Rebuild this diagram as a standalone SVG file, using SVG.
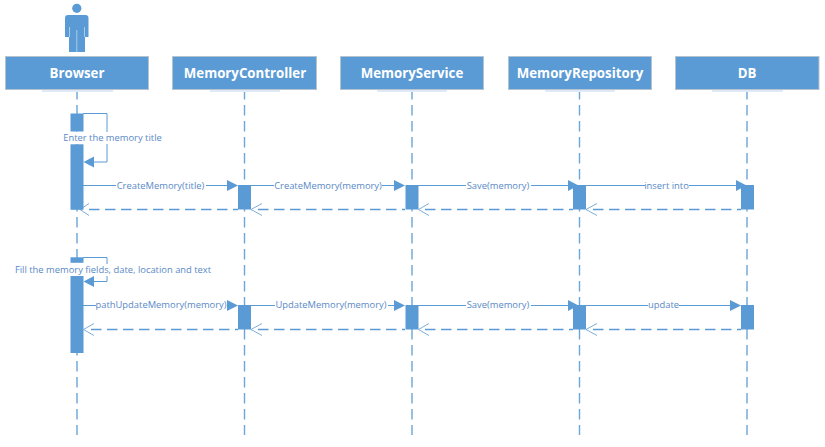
<svg xmlns="http://www.w3.org/2000/svg" width="825" height="447" viewBox="0 0 825 447">
<style>
.box{fill:#5b9bd5;stroke:#b5c3d0;stroke-width:1}
.shade{fill:#dfeaf6}
.title{font:bold 13.25px "Open Sans",sans-serif;fill:#fff;text-anchor:middle}
.life{fill:none;stroke:#6ba5da;stroke-width:1.4;stroke-dasharray:10.500 5.500}
.act{fill:#5b9bd5}
.msg{fill:none;stroke:#5b9bd5;stroke-width:1}
.ret{fill:none;stroke:#5b9bd5;stroke-width:1.4;stroke-dasharray:10.500 5.500}
.open{fill:none;stroke:#5b9bd5;stroke-width:.8}
.head{fill:#5b9bd5}
.lbl{font:9.4px "Open Sans",sans-serif;fill:#5a8ac6;text-anchor:middle}
.bg{fill:#fff}
</style>
<rect width="825" height="447" fill="#fff"/>
<g id="connectors">
<path class="life" d="M77 89V435M244.500 89V435M412 89V435M579.500 89V435M747 89V435"/>
<path class="msg" d="M83 113.500H107V162H90"/>
<path class="msg" d="M83 185.500H228M250 185.500H396M418 185.500H569M586 185.500H737"/>
<path class="head" d="M83.500 162L94 156.500V167.500ZM238 185.500L227 180V191ZM405 185.500L394 180V191ZM578.500 185.500L568 180V191ZM746.500 185.500L736 180V191Z"/>
<path class="ret" d="M89 209.500H238M258 209.500H405M425 209.500H573M593 209.500H741"/>
<path class="open" d="M89 203.500L80 209.500L89 215.500M262 203.500L251 209.500L262 215.500M429 203.500L418.500 209.500L429 215.500M597 203.500L586 209.500L597 215.500"/>
<path class="msg" d="M83 257.500H107V281.500H90"/>
<path class="msg" d="M83 305.500H228M250 305.500H396M418 305.500H569M586 305.500H731"/>
<path class="head" d="M83.500 281.500L94 276V287ZM238 305.500L227 300V311ZM405 305.500L394 300V311ZM578.500 305.500L568 300V311ZM741 305.500L730 300V311Z"/>
<path class="ret" d="M91 329.500H238M258 329.500H405M425 329.500H573M593 329.500H741"/>
<path class="open" d="M94 323.500L83.500 329.500L94 335.500M262 323.500L251 329.500L262 335.500M429 323.500L418.500 329.500L429 335.500M597 323.500L586 329.500L597 335.500"/>
</g>
<g id="browser">
<g id="actor">
<circle cx="76.800" cy="8.300" r="4.600" fill="#5b9bd5"/>
<path fill="#5b9bd5" d="M68 15H85.500Q88.500 15 88.500 18V37H85V52H69V37H65V18Q65 15 68 15Z"/>
<path fill="none" stroke="#a9cbea" stroke-width="1" d="M76.800 30V52M69.500 27V37M84.500 27V37"/>
</g>
<rect class="shade" x="42" y="90" width="71" height="2"/>
<rect class="box" x="5.500" y="56.500" width="143" height="33"/>
<text class="title" x="77" y="77.500">Browser</text>
<rect class="act" x="70.500" y="113.500" width="13" height="18"/>
<rect class="act" x="70.500" y="144.300" width="13" height="65.500"/>
<rect class="act" x="70.500" y="257.300" width="13" height="5.500"/>
<rect class="act" x="70.500" y="276" width="13" height="77"/>
</g>
<g id="memory-controller">
<rect class="shade" x="210" y="90" width="70" height="2"/>
<rect class="box" x="172.500" y="56.500" width="144" height="33"/>
<text class="title" x="245" y="77.500">MemoryController</text>
<rect class="act" x="238" y="185" width="13" height="24.500"/>
<rect class="act" x="238" y="305" width="13" height="24.500"/>
</g>
<g id="memory-service">
<rect class="shade" x="377" y="90" width="70" height="2"/>
<rect class="box" x="340.500" y="56.500" width="143" height="33"/>
<text class="title" x="412" y="77.500">MemoryService</text>
<rect class="act" x="405.500" y="185" width="13" height="24.500"/>
<rect class="act" x="405.500" y="305" width="13" height="24.500"/>
</g>
<g id="memory-repository">
<rect class="shade" x="545" y="90" width="70" height="2"/>
<rect class="box" x="508.500" y="56.500" width="143" height="33"/>
<text class="title" x="580" y="77.500">MemoryRepository</text>
<rect class="act" x="573" y="185" width="13" height="24.500"/>
<rect class="act" x="573" y="305" width="13" height="24.500"/>
</g>
<g id="db">
<rect class="shade" x="712" y="90" width="71" height="2"/>
<rect class="box" x="675.500" y="56.500" width="143.500" height="33"/>
<text class="title" x="747" y="77.500">DB</text>
<rect class="act" x="741" y="185" width="13" height="24.500"/>
<rect class="act" x="741" y="305" width="13" height="24.500"/>
</g>
<g id="labels">
<rect class="bg" x="63" y="132" width="99" height="12"/>
<text class="lbl" x="112.500" y="141">Enter the memory title</text>
<rect class="bg" x="116" y="180" width="90" height="12"/>
<text class="lbl" x="160.500" y="189">CreateMemory(title)</text>
<rect class="bg" x="274" y="180" width="108" height="12"/>
<text class="lbl" x="328" y="189">CreateMemory(memory)</text>
<rect class="bg" x="466" y="180" width="65" height="12"/>
<text class="lbl" x="498" y="189">Save(memory)</text>
<rect class="bg" x="645" y="180" width="44" height="12"/>
<text class="lbl" x="666.500" y="189">insert into</text>
<rect class="bg" x="15" y="264" width="197" height="12"/>
<text class="lbl" x="113" y="273">Fill the memory fields, date, location and text</text>
<rect class="bg" x="96" y="299" width="131" height="12"/>
<text class="lbl" x="161" y="308">pathUpdateMemory(memory)</text>
<rect class="bg" x="275" y="299" width="113" height="12"/>
<text class="lbl" x="331" y="308">UpdateMemory(memory)</text>
<rect class="bg" x="466" y="299" width="65" height="12"/>
<text class="lbl" x="498" y="308">Save(memory)</text>
<rect class="bg" x="648" y="299" width="31" height="12"/>
<text class="lbl" x="663.500" y="308">update</text>
</g>
</svg>
